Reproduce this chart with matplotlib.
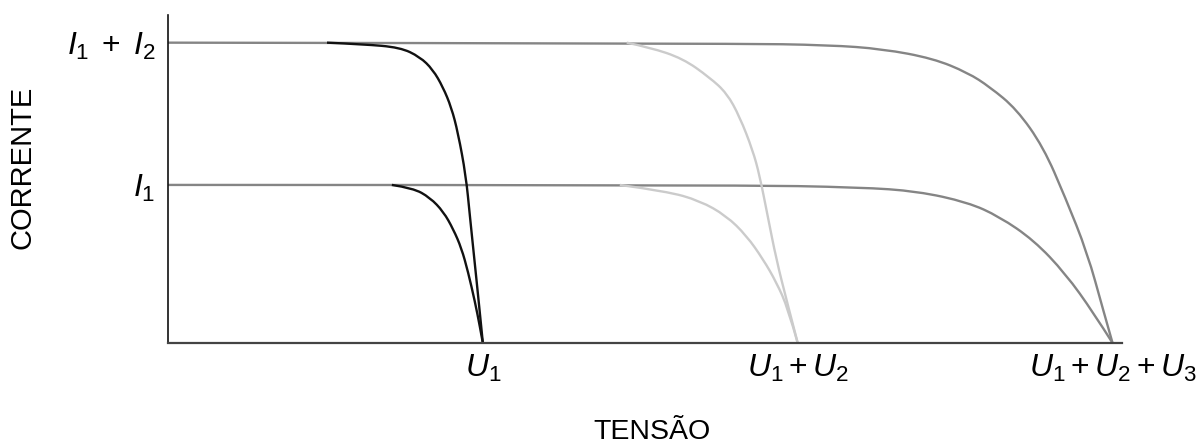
import matplotlib
matplotlib.use("Agg")
import matplotlib.pyplot as plt
from matplotlib.path import Path
from matplotlib.patches import PathPatch

plt.rcParams['font.family'] = ['Liberation Sans', 'DejaVu Sans']
plt.rcParams['mathtext.fontset'] = 'custom'
plt.rcParams['mathtext.rm'] = 'Liberation Sans'
plt.rcParams['mathtext.it'] = 'Liberation Sans:italic'

# current levels and open-circuit voltages (arbitrary units)
i_levels = [1.0, 1.9]
i_labels = [r'$I_1$', r'$I_1\;+\;I_2$']
u_levels = [1.0, 2.0, 3.0]
u_labels = [r'$U_1$', r'$U_1 + U_2$', r'$U_1 + U_2 + U_3$']

# curves (voltage, current)
black_hi_v = [0.505, 0.62, 0.737, 0.80, 0.841, 0.873, 0.90, 0.921, 0.946, 0.959, 0.973, 0.987, 1.0]
black_hi_i = [1.90, 1.89, 1.87, 1.81, 1.73, 1.62, 1.49, 1.33, 1.06, 0.80, 0.53, 0.26, 0.0]
black_lo_v = [0.711, 0.778, 0.832, 0.875, 0.906, 0.932, 0.953, 0.975, 0.99, 1.0]
black_lo_i = [1.0, 0.98, 0.92, 0.83, 0.72, 0.60, 0.45, 0.26, 0.11, 0.0]

light_hi_v = [1.457, 1.53, 1.635, 1.72, 1.775, 1.816, 1.857, 1.879, 1.905, 1.932, 1.966, 2.0]
light_hi_i = [1.90, 1.87, 1.80, 1.68, 1.58, 1.43, 1.22, 1.06, 0.80, 0.53, 0.26, 0.0]
light_lo_v = [1.435, 1.583, 1.689, 1.773, 1.837, 1.89, 1.932, 1.969, 2.0]
light_lo_i = [1.0, 0.96, 0.90, 0.805, 0.68, 0.53, 0.385, 0.22, 0.0]

mid_hi_v = [0.0, 1.8, 2.1, 2.27, 2.43, 2.54, 2.61, 2.695, 2.78, 2.85, 2.92, 2.97, 3.0]
mid_hi_i = [1.90, 1.895, 1.885, 1.86, 1.80, 1.71, 1.62, 1.48, 1.24, 0.92, 0.57, 0.21, 0.0]
mid_lo_v = [0.0, 1.8, 2.2, 2.38, 2.54, 2.64, 2.75, 2.85, 2.94, 3.0]
mid_lo_i = [1.0, 1.0, 0.985, 0.96, 0.89, 0.80, 0.65, 0.44, 0.19, 0.0]


def smooth_path(vs, cs):
    # quadratic bezier: read points act as control points, midpoints as anchors
    pts = list(zip(vs, cs))
    verts = [pts[0]]
    codes = [Path.MOVETO]
    for k in range(1, len(pts) - 1):
        mid = ((pts[k][0] + pts[k + 1][0]) / 2, (pts[k][1] + pts[k + 1][1]) / 2)
        if k == len(pts) - 2:
            mid = pts[-1]
        verts += [pts[k], mid]
        codes += [Path.CURVE3, Path.CURVE3]
    return Path(verts, codes)


fig = plt.figure(figsize=(12.02, 4.46), dpi=100)
ax = fig.add_axes([168 / 1202, 103 / 446, 954 / 1202, 328 / 446])

lw = 1.7
curves = [
    (mid_hi_v, mid_hi_i, '#858585'),
    (mid_lo_v, mid_lo_i, '#858585'),
    (light_hi_v, light_hi_i, '#cbcbcb'),
    (light_lo_v, light_lo_i, '#cbcbcb'),
    (black_hi_v, black_hi_i, '#111111'),
    (black_lo_v, black_lo_i, '#111111'),
]
for vs, cs, col in curves:
    ax.add_patch(PathPatch(smooth_path(vs, cs), facecolor='none', edgecolor=col,
                           lw=lw, capstyle='butt', joinstyle='round'))

ax.set_xlim(0, 3.03)
ax.set_ylim(0, 2.075)
for s in ['top', 'right']:
    ax.spines[s].set_visible(False)
ax.spines['left'].set_color('#111111')
ax.spines['left'].set_linewidth(1.2)
ax.spines['bottom'].set_color('#444444')
ax.spines['bottom'].set_linewidth(1.6)

ax.set_xticks(u_levels, u_labels, fontsize=23)
ax.set_yticks(i_levels, i_labels, fontsize=23)
ax.tick_params(axis='x', length=0, pad=7)
ax.tick_params(axis='y', length=0, pad=9)

fig.text(652 / 1202, 1 - 432 / 446, 'TENSÃO', fontsize=20.5, ha='center', va='center')
fig.text(23 / 1202, 1 - 167 / 446, 'CORRENTE', fontsize=21, ha='center', va='center',
         rotation=90)

fig.savefig('out.png', dpi=100)
